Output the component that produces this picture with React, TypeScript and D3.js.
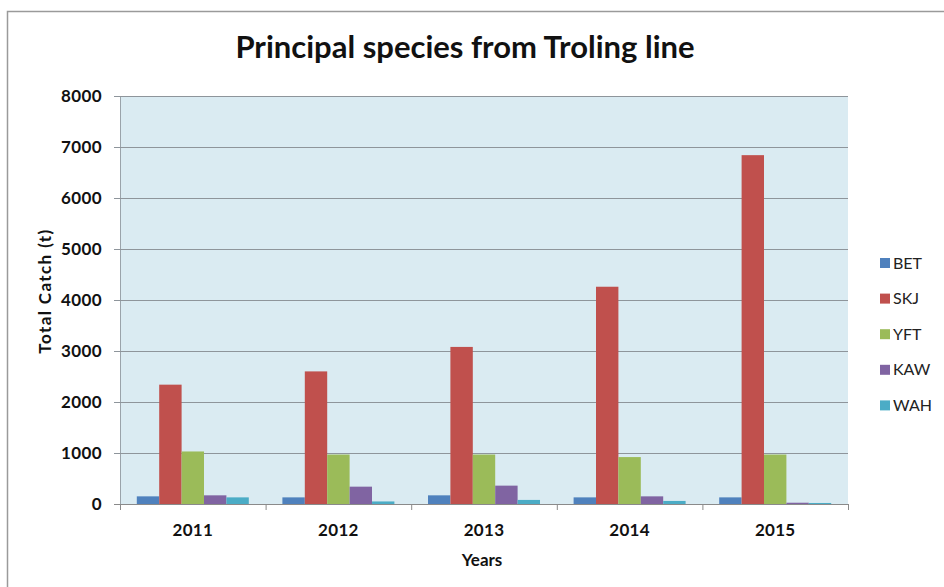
import React, { useEffect, useRef } from 'react';
import * as d3 from 'd3';

const years = ['2011', '2012', '2013', '2014', '2015'];
const species = ['BET', 'SKJ', 'YFT', 'KAW', 'WAH'];
const betValues = [150, 130, 170, 130, 130];
const skjValues = [2340, 2600, 3080, 4260, 6840];
const yftValues = [1030, 970, 970, 920, 970];
const kawValues = [170, 340, 360, 150, 25];
const wahValues = [130, 50, 80, 60, 20];
const yTicks = [0, 1000, 2000, 3000, 4000, 5000, 6000, 7000, 8000];
const colors = ['#4F81BD', '#C0504D', '#9BBB59', '#8064A2', '#4BACC6'];

const W = 944;
const H = 587;
const FONT = 'Lato, "Open Sans", sans-serif';

const App: React.FC = () => {
  const svgRef = useRef<SVGSVGElement>(null);

  useEffect(() => {
    if (!svgRef.current) return;
    const root = d3.select(svgRef.current);
    root.selectAll('*').remove();

    const series = [betValues, skjValues, yftValues, kawValues, wahValues];
    const margin = { top: 96, right: 96, bottom: 83, left: 120 };
    const innerW = W - margin.left - margin.right;
    const innerH = H - margin.top - margin.bottom;

    // outer chart frame (cropped on right/bottom like the source)
    root.append('rect')
      .attr('x', 7.5).attr('y', 11.5)
      .attr('width', 1000).attr('height', 700)
      .attr('fill', '#fff').attr('stroke', '#9a9a9a').attr('stroke-width', 1.5);

    const x0 = d3.scaleBand<string>().domain(years).range([0, innerW]).paddingInner(0).paddingOuter(0);
    const x1 = d3.scaleBand<string>().domain(species).range([0, x0.bandwidth()]).paddingInner(0).paddingOuter(0.75);
    const y = d3.scaleLinear().domain([0, 8000]).range([innerH, 0]);

    const g = root.append('g').attr('transform', `translate(${margin.left},${margin.top})`);

    g.append('rect').attr('width', innerW).attr('height', innerH).attr('fill', '#DAEBF2');
    g.append('line').attr('x1', 0.5).attr('x2', 0.5).attr('y1', 0).attr('y2', innerH).attr('stroke', '#9aa3aa');

    // gridlines + y tick marks
    yTicks.forEach(t => {
      g.append('line')
        .attr('x1', -6).attr('x2', innerW)
        .attr('y1', Math.round(y(t)) + 0.5).attr('y2', Math.round(y(t)) + 0.5)
        .attr('stroke', t === 0 ? '#8a8a8a' : '#8e959b').attr('stroke-width', 1.2);
      g.append('text')
        .attr('x', -18).attr('y', y(t)).attr('dy', '0.35em')
        .attr('text-anchor', 'end')
        .attr('font-family', FONT).attr('font-weight', 700).attr('font-size', 17)
        .attr('letter-spacing', 0.4)
        .attr('fill', '#111')
        .text(String(t));
    });

    // x tick marks at band boundaries
    d3.range(years.length + 1).forEach(i => {
      const xx = i * x0.step();
      g.append('line')
        .attr('x1', xx + 0.5).attr('x2', xx + 0.5)
        .attr('y1', innerH).attr('y2', innerH + 6)
        .attr('stroke', '#8a8a8a');
    });

    // bars
    years.forEach((yr, i) => {
      const grp = g.append('g').attr('transform', `translate(${x0(yr)},0)`);
      species.forEach((sp, j) => {
        const v = series[j][i];
        grp.append('rect')
          .attr('x', x1(sp)!)
          .attr('y', y(v))
          .attr('width', x1.bandwidth())
          .attr('height', innerH - y(v))
          .attr('fill', colors[j]);
      });
      g.append('text')
        .attr('x', x0(yr)! + x0.bandwidth() / 2)
        .attr('y', innerH + 32)
        .attr('text-anchor', 'middle')
        .attr('font-family', FONT).attr('font-weight', 700).attr('font-size', 17)
        .attr('letter-spacing', 0.3)
        .attr('fill', '#111')
        .text(yr);
    });

    // axis titles
    g.append('text')
      .attr('x', innerW / 2 - 2).attr('y', innerH + 62)
      .attr('text-anchor', 'middle')
      .attr('font-family', FONT).attr('font-weight', 700).attr('font-size', 17)
      .attr('fill', '#111')
      .text('Years');

    root.append('text')
      .attr('transform', `translate(51,291) rotate(-90)`)
      .attr('text-anchor', 'middle')
      .attr('font-family', FONT).attr('font-weight', 700).attr('font-size', 17)
      .attr('letter-spacing', 1.4)
      .attr('fill', '#111')
      .text('Total Catch (t)');

    // title
    root.append('text')
      .attr('x', 465).attr('y', 58)
      .attr('text-anchor', 'middle')
      .attr('font-family', FONT).attr('font-weight', 700).attr('font-size', 31)
      .attr('fill', '#111')
      .text('Principal species from Troling line');

    // legend
    const leg = root.append('g').attr('transform', 'translate(880,263)');
    species.forEach((sp, j) => {
      const row = leg.append('g').attr('transform', `translate(0,${j * 35.6})`);
      row.append('rect').attr('x', 0).attr('y', -5).attr('width', 10).attr('height', 10).attr('fill', colors[j]);
      row.append('text')
        .attr('x', 13).attr('y', 0).attr('dy', '0.35em')
        .attr('font-family', FONT).attr('font-size', 16)
        .attr('fill', '#222')
        .text(sp);
    });
  }, []);

  return (
    <svg
      ref={svgRef}
      width={W}
      height={H}
      style={{ position: 'absolute', left: 0, top: 0, background: '#fff' }}
    />
  );
};

export default App;
